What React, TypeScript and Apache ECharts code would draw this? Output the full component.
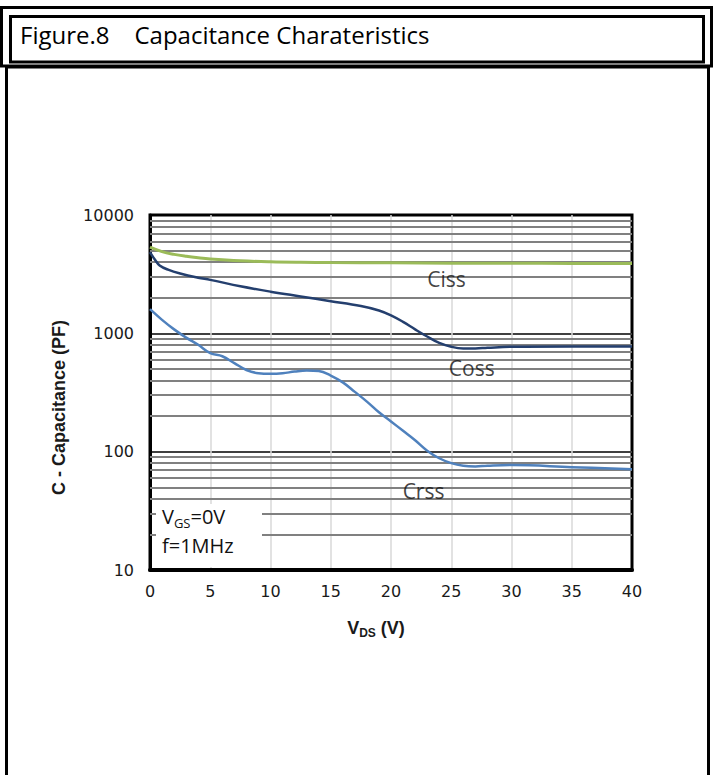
import React, { useEffect, useRef } from "react";
import * as echarts from "echarts";

// V_DS sweep points (V) and capacitance values (pF) for each curve
const cissVds = [0, 1, 2, 3, 4, 5, 7.5, 10, 12.5, 15, 20, 25, 30, 35, 40];
const cissPf = [5350, 4900, 4650, 4480, 4350, 4250, 4100, 4020, 3980, 3960, 3940, 3920, 3910, 3900, 3900];

const cossVds = [0, 0.4, 0.8, 1.5, 2.5, 4, 5, 7.5, 10, 12.5, 15, 17.5, 19, 20, 21, 22, 23, 24, 25, 26, 27, 28, 30, 35, 40];
const cossPf = [4850, 4200, 3750, 3450, 3200, 2950, 2830, 2500, 2250, 2050, 1870, 1700, 1560, 1420, 1250, 1080, 940, 830, 770, 745, 745, 755, 770, 775, 775];

const crssVds = [0, 1, 2, 3, 4, 5, 6, 7, 8, 9, 10, 11, 12, 13, 14, 15, 16, 17, 18, 19, 20, 21, 22, 23, 24, 25, 26, 27, 28, 30, 35, 40];
const crssPf = [1600, 1300, 1080, 920, 800, 680, 640, 560, 490, 460, 455, 460, 475, 485, 480, 440, 385, 320, 265, 215, 180, 150, 125, 102, 88, 80, 76, 75, 76, 77, 74, 71];

// Minor decade gridlines (2..9 x 10^n)
const minorGridPf = [20, 30, 40, 50, 60, 70, 80, 90, 200, 300, 400, 500, 600, 700, 800, 900, 2000, 3000, 4000, 5000, 6000, 7000, 8000, 9000];

// Curve name tags placed in data space
const tagNames = ["Ciss", "Coss", "Crss"];
const tagVds = [24.6, 26.7, 22.7];
const tagPf = [2880, 509, 46.4];

const TEXT_FONT = "'Open Sans', 'Noto Sans', sans-serif";
const TICK_FONT = "'DejaVu Sans', Verdana, sans-serif";
const NAME_FONT = "'Liberation Sans', Arial, sans-serif";

const pairs = (xs: number[], ys: number[]) => xs.map((x, i) => [x, ys[i]]);

export default function App() {
  const ref = useRef<HTMLDivElement>(null);

  useEffect(() => {
    if (!ref.current) return;
    const chart = echarts.init(ref.current, null, { renderer: "svg" });

    const option = {
      animation: false,
      backgroundColor: "#ffffff",
      grid: {
        left: 150,
        top: 215,
        width: 482,
        height: 355,
        show: true,
        borderColor: "#000000",
        borderWidth: 3,
        backgroundColor: "transparent",
        containLabel: false,
      },
      xAxis: {
        type: "value",
        min: 0,
        max: 40,
        interval: 5,
        axisLine: { show: true, onZero: false, lineStyle: { color: "#000000", width: 4 } },
        axisTick: { show: false },
        axisLabel: { fontFamily: TICK_FONT, fontSize: 16, color: "#1a1a1a", margin: 13 },
        splitLine: {
          show: true,
          showMinLine: false,
          showMaxLine: false,
          lineStyle: { color: "#d9d9d9", width: 1.5 },
        },
        name: "{v|V}{s|DS}{v| (V)}",
        nameLocation: "middle",
        nameGap: 47,
        nameTextStyle: {
          padding: [0, 30, 0, 0],
          rich: {
            v: { fontFamily: NAME_FONT, fontWeight: "bold", fontSize: 18, color: "#1a1a1a", lineHeight: 22 },
            s: { fontFamily: NAME_FONT, fontWeight: "bold", fontSize: 12, color: "#1a1a1a", lineHeight: 10, verticalAlign: "bottom" },
          },
        },
      },
      yAxis: {
        type: "log",
        logBase: 10,
        min: 10,
        max: 10000,
        axisLine: { show: true, lineStyle: { color: "#000000", width: 3 } },
        axisTick: { show: false },
        axisLabel: {
          fontFamily: TICK_FONT,
          fontSize: 16,
          color: "#1a1a1a",
          margin: 16,
          formatter: (v: number) => String(Math.round(v)),
        },
        splitLine: {
          show: true,
          showMinLine: false,
          showMaxLine: false,
          lineStyle: { color: "#404040", width: 2 },
        },
        name: "C - Capacitance (PF)",
        nameLocation: "middle",
        nameRotate: 90,
        nameGap: 80,
        nameTextStyle: {
          fontFamily: NAME_FONT,
          fontWeight: "bold",
          fontSize: 18,
          color: "#1a1a1a",
          lineHeight: 22,
          padding: [0, 30, 0, 0],
        },
      },
      series: [
        {
          name: "Ciss",
          type: "line",
          data: pairs(cissVds, cissPf),
          smooth: 0.4,
          showSymbol: false,
          lineStyle: { color: "#9bbb59", width: 3 },
          z: 3,
          markLine: {
            silent: true,
            z: 1,
            symbol: ["none", "none"],
            label: { show: false },
            lineStyle: { color: "#808080", width: 2, type: "solid" },
            data: minorGridPf.map((v) => ({ yAxis: v })),
          },
        },
        {
          name: "Coss",
          type: "line",
          data: pairs(cossVds, cossPf),
          smooth: 0.4,
          showSymbol: false,
          lineStyle: { color: "#243f6e", width: 2.5 },
          z: 3,
        },
        {
          name: "Crss",
          type: "line",
          data: pairs(crssVds, crssPf),
          smooth: 0.4,
          showSymbol: false,
          lineStyle: { color: "#4f81bd", width: 2.5 },
          z: 3,
        },
        {
          name: "tags",
          type: "scatter",
          symbolSize: 1,
          itemStyle: { color: "rgba(0,0,0,0)" },
          silent: true,
          z: 4,
          data: tagNames.map((n, i) => [tagVds[i], tagPf[i], n]),
          label: {
            show: true,
            position: "inside",
            formatter: (p: any) => p.data[2],
            fontFamily: TEXT_FONT,
            fontSize: 21,
            color: "#111111",
          },
        },
      ],
      graphic: [
        // title banner: double frame
        {
          type: "rect",
          shape: { x: 1.5, y: 7.5, width: 710, height: 58.5 },
          style: { fill: "none", stroke: "#000000", lineWidth: 3 },
          z: 20,
        },
        {
          type: "rect",
          shape: { x: 10.5, y: 16.5, width: 693, height: 45.5 },
          style: { fill: "none", stroke: "#000000", lineWidth: 3 },
          z: 20,
        },
        {
          type: "text",
          left: 20,
          top: 22,
          style: {
            text: "Figure.8\u00a0\u00a0\u00a0\u00a0Capacitance Charateristics",
            fontFamily: TEXT_FONT,
            fontSize: 24,
            fill: "#000000",
          },
          z: 20,
        },
        // body frame
        {
          type: "polyline",
          shape: { points: [[6.5, 775], [6.5, 67], [708.5, 67], [708.5, 775]] },
          style: { fill: "none", stroke: "#000000", lineWidth: 3 },
          z: 20,
        },
        // test condition box
        {
          type: "rect",
          shape: { x: 156, y: 504, width: 106, height: 63 },
          style: { fill: "#ffffff" },
          z: 10,
        },
        {
          type: "text",
          left: 162,
          top: 506,
          style: {
            text: "{a|V}{b|GS}{a|=0V}",
            rich: {
              a: { fontFamily: TEXT_FONT, fontSize: 20, fill: "#111111", lineHeight: 26 },
              b: { fontFamily: TEXT_FONT, fontSize: 13, fill: "#111111", lineHeight: 10, verticalAlign: "bottom" },
            },
          },
          z: 11,
        },
        {
          type: "text",
          left: 162,
          top: 535,
          style: { text: "f=1MHz", fontFamily: TEXT_FONT, fontSize: 20, fill: "#111111" },
          z: 11,
        },
      ],
    };

    chart.setOption(option as any);
    return () => chart.dispose();
  }, []);

  return (
    <div
      ref={ref}
      style={{ position: "absolute", left: 0, top: 0, width: 717, height: 775, background: "#ffffff" }}
    />
  );
}
